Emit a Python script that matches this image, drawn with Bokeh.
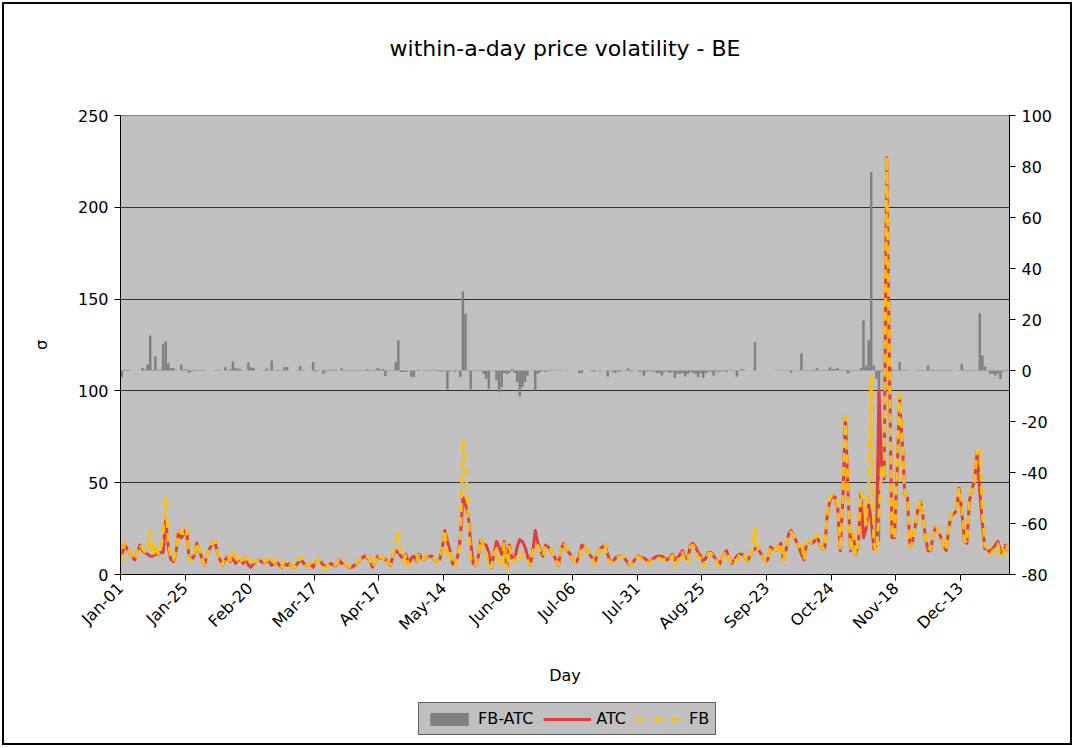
import math
import numpy as np
from bokeh.plotting import figure
from bokeh.layouts import column
from bokeh.models import Range1d, LinearAxis, FixedTicker, Legend, LegendItem, Label
from bokeh.embed import file_html
from bokeh.resources import INLINE

FONT = "DejaVu Sans"

TICK_LABELS = ["Jan-01", "Jan-25", "Feb-20", "Mar-17", "Apr-17", "May-14", "Jun-08",
               "Jul-06", "Jul-31", "Aug-25", "Sep-23", "Oct-24", "Nov-18", "Dec-13"]
TICK_STEP = 25

ATC = [
    9, 17, 14, 12, 10, 8, 12, 16, 13, 12, 11, 10, 10, 11, 11, 12, 12, 30, 15, 8, 7, 12, 24, 20, 22,
    25, 10, 8, 10, 17, 13, 9, 5, 11, 14, 17, 18, 12, 8, 5, 8, 10, 7, 9, 6, 8, 8, 6, 9, 5,
    4, 6, 7, 8, 7, 6, 8, 7, 5, 6, 7, 5, 4, 6, 5, 6, 4, 4, 6, 8, 7, 5, 5, 6, 4,
    6, 8, 7, 5, 4, 5, 6, 5, 5, 8, 6, 6, 5, 4, 4, 5, 6, 8, 9, 10, 9, 8, 4, 7, 10,
    9, 9, 8, 7, 5, 11, 13, 12, 10, 8, 11, 5, 9, 10, 7, 11, 9, 8, 10, 10, 10, 8, 7, 8, 14,
    24, 18, 13, 6, 5, 10, 20, 42, 38, 33, 17, 6, 5, 10, 19, 16, 16, 12, 4, 11, 18, 15, 11, 18, 4,
    16, 9, 8, 15, 19, 18, 15, 10, 5, 12, 24, 17, 13, 10, 16, 15, 13, 11, 8, 5, 14, 17, 14, 12, 10,
    7, 7, 10, 16, 15, 13, 11, 9, 6, 11, 14, 15, 16, 11, 7, 7, 9, 10, 10, 10, 8, 6, 5, 7, 9,
    10, 9, 9, 8, 6, 8, 9, 10, 10, 10, 9, 8, 9, 11, 8, 9, 11, 13, 9, 8, 16, 17, 15, 12, 10,
    7, 9, 12, 12, 10, 8, 5, 8, 11, 13, 9, 6, 8, 10, 11, 11, 10, 7, 10, 13, 14, 15, 12, 10, 7,
    8, 15, 14, 13, 15, 17, 8, 13, 22, 24, 21, 18, 15, 11, 8, 17, 18, 17, 18, 21, 17, 14, 14, 33, 40,
    43, 42, 37, 13, 40, 86, 45, 13, 22, 11, 16, 44, 20, 25, 38, 30, 14, 16, 100, 60, 52, 227, 120, 20, 20,
    55, 95, 72, 44, 42, 15, 18, 26, 35, 40, 32, 20, 13, 13, 22, 26, 24, 20, 16, 13, 25, 33, 33, 35, 47,
    35, 19, 17, 40, 47, 51, 67, 45, 28, 14, 14, 12, 14, 16, 18, 13, 11, 16, 13,
]

FB = [
    6.4, 17.3, 14.3, 12.3, 10, 8, 12, 16, 14, 12.4, 13.4, 23.7, 10.3, 16.5, 11.3, 12.3, 22.5, 41.4, 17.9, 9, 8, 12.2, 24, 22.4, 22.3,
    25.5, 9.1, 7.6, 10.2, 17.2, 13.2, 9.2, 5.2, 11, 14, 17, 18.2, 12.2, 8.2, 5, 9.3, 10.2, 7.5, 12.5, 6.8, 8.8, 8.5, 6, 9, 8.1,
    5.2, 7, 7, 8, 7, 6.2, 8.8, 7.2, 8.9, 6.2, 7.2, 5.2, 4.2, 7.3, 6.3, 6, 4, 4, 6.2, 9.7, 7.2, 5, 5, 6, 7.3,
    5.6, 8.2, 7, 3.7, 3.6, 5.2, 6.2, 5.3, 5.3, 8, 6.9, 6.2, 5.2, 4.2, 4.2, 5.2, 6.2, 8.2, 9.2, 10.2, 9.6, 8.2, 4.2, 7.2, 11,
    9.4, 9.6, 5.8, 7.2, 5.2, 11.2, 16.3, 23.8, 9.4, 7.4, 10.4, 4.8, 6.6, 7.4, 7.2, 11.2, 9, 8.2, 10.2, 10.2, 10.2, 8.2, 7.2, 7.6, 13.6,
    24.2, 10.6, 12.6, 6.2, 4.6, 10.2, 17.4, 73, 60.2, 33.2, 9.6, 6.2, 5.2, 10.2, 19.2, 14.7, 12.7, 4.8, 4.2, 11.2, 14.1, 6.5, 4.5, 17, 2.5,
    15, 9.6, 7, 10.4, 8.8, 11.5, 10.4, 8, 5, 12.2, 16.2, 15.7, 12.4, 10.2, 15.4, 15.2, 13.2, 11.1, 8.1, 5.1, 14.1, 17, 14.2, 12, 10,
    7, 7, 9, 15, 15, 13, 11, 8.6, 5.6, 11, 13.6, 15, 16, 8.6, 7, 6.4, 8, 9.6, 9.6, 10, 8.2, 6.9, 4.6, 6.8, 9,
    9.6, 8.6, 7, 7.6, 5.8, 7.6, 8.6, 9, 9, 8, 8.4, 7.6, 8, 10.4, 5.1, 7.7, 9.7, 12, 6.6, 6.7, 15.4, 16, 13.7, 9.4, 9,
    4.1, 8, 11.6, 11.6, 8, 7.6, 4.6, 7.6, 10.8, 12.4, 9, 5.8, 7.8, 7.6, 10.8, 11.6, 10.3, 7, 10, 13, 25.1, 15, 12, 10, 7,
    8, 15, 14.1, 13.1, 15.1, 17.1, 8.1, 13.1, 22.1, 23.1, 21.1, 18.1, 15.1, 17.8, 8.2, 17.2, 18.2, 17.2, 18.2, 21.9, 17.2, 14.2, 14.2, 33.3, 41.3,
    43.6, 42.6, 38, 13.2, 40.2, 86.2, 43.7, 12.7, 22.2, 11.2, 16.2, 45, 39.6, 27, 50, 107.8, 16, 12.7, 33, 59.5, 52.2, 227.3, 120.2, 20.6, 20.2,
    55.2, 98.3, 72.2, 44.2, 42.2, 15, 18, 26, 35.2, 40.2, 32.2, 20.2, 15, 13.3, 22.3, 26.3, 24.2, 20.2, 16.2, 13.3, 25.2, 33.2, 33, 35, 47.2,
    37.6, 19.3, 17.2, 40.2, 47.2, 51.2, 67.2, 67.5, 33.9, 15.6, 14.2, 10.7, 12.7, 14, 16.7, 9.7, 10.5, 16.3, 13.3,
]

FB_ATC = [
    -2.6, 0.3, 0.3, 0.3, 0, 0, 0, 0, 1.0, 0.4, 2.4, 13.7, 0.3, 5.5, 0.3, 0.3, 10.5, 11.4, 2.9, 1.0, 1.0, 0.2, 0, 2.4, 0.3,
    0.5, -0.9, -0.4, 0.2, 0.2, 0.2, 0.2, 0.2, 0, 0, 0, 0.2, 0.2, 0.2, 0, 1.3, 0.2, 0.5, 3.5, 0.8, 0.8, 0.5, 0, 0, 3.1,
    1.2, 1.0, 0, 0, 0, 0.2, 0.8, 0.2, 3.9, 0.2, 0.2, 0.2, 0.2, 1.3, 1.3, 0, 0, 0, 0.2, 1.7, 0.2, 0, 0, 0, 3.3,
    -0.4, 0.2, 0, -1.3, -0.4, 0.2, 0.2, 0.3, 0.3, 0, 0.9, 0.2, 0.2, 0.2, 0.2, 0.2, 0.2, 0.2, 0.2, 0.2, 0.6, 0.2, 0.2, 0.2, 1.0,
    0.4, 0.6, -2.2, 0.2, 0.2, 0.2, 3.3, 11.8, -0.6, -0.6, -0.6, -0.2, -2.4, -2.6, 0.2, 0.2, 0, 0.2, 0.2, 0.2, 0.2, 0.2, 0.2, -0.4, -0.4,
    0.2, -7.4, -0.4, 0.2, -0.4, 0.2, -2.6, 31.0, 22.2, 0.2, -7.4, 0.2, 0.2, 0.2, 0.2, -1.3, -3.3, -7.2, 0.2, 0.2, -3.9, -8.5, -6.5, -1.0, -1.5,
    -1.0, 0.6, -1.0, -4.6, -10.2, -6.5, -4.6, -2.0, 0, 0.2, -7.8, -1.3, -0.6, 0.2, -0.6, 0.2, 0.2, 0.1, 0.1, 0.1, 0.1, 0, 0.2, 0, 0,
    0, 0, -1.0, -1.0, 0, 0, 0, -0.4, -0.4, 0, -0.4, 0, 0, -2.4, 0, -0.6, -1.0, -0.4, -0.4, 0, 0.2, 0.9, -0.4, -0.2, 0,
    -0.4, -0.4, -2.0, -0.4, -0.2, -0.4, -0.4, -1.0, -1.0, -2.0, -0.6, -0.4, -1.0, -0.6, -2.9, -1.3, -1.3, -1.0, -2.4, -1.3, -0.6, -1.0, -1.3, -2.6, -1.0,
    -2.9, -1.0, -0.4, -0.4, -2.0, -0.4, -0.4, -0.4, -0.2, -0.6, 0, -0.2, -0.2, -2.4, -0.2, 0.6, 0.3, 0, 0, 0, 11.1, 0, 0, 0, 0,
    0, 0, 0.1, 0.1, 0.1, 0.1, 0.1, 0.1, 0.1, -0.9, 0.1, 0.1, 0.1, 6.8, 0.2, 0.2, 0.2, 0.2, 0.2, 0.9, 0.2, 0.2, 0.2, 0.3, 1.3,
    0.6, 0.6, 1.0, 0.2, 0.2, 0.2, -1.3, -0.3, 0.2, 0.2, 0.2, 1.0, 19.6, 2.0, 12.0, 77.8, 2.0, -3.3, -67.0, -0.5, 0.2, 0.3, 0.2, 0.6, 0.2,
    0.2, 3.3, 0.2, 0.2, 0.2, 0, 0, 0, 0.2, 0.2, 0.2, 0.2, 2.0, 0.3, 0.3, 0.3, 0.2, 0.2, 0.2, 0.3, 0.2, 0.2, 0, 0, 0.2,
    2.6, 0.3, 0.2, 0.2, 0.2, 0.2, 0.2, 22.5, 5.9, 1.6, 0.2, -1.3, -1.3, -2.0, -1.3, -3.3, -0.5, 0.3, 0.3,
]

LEFT_TICKS = [0, 50, 100, 150, 200, 250]
RIGHT_TICKS = [-80, -60, -40, -20, 0, 20, 40, 60, 80, 100]

BAR_COLOR = "#808080"
ATC_COLOR = "#E53A3F"
FB_COLOR = "#FFC000"

n = len(ATC)
x = np.arange(n) + 0.5

W = 1074
H_TOP = 70
H_MAIN = 630
H_LEG = 47
FRAME_TOP, FRAME_BOTTOM, FRAME_LEFT, FRAME_RIGHT = 115, 574, 120, 1009


def bare_figure(height, **kw):
    f = figure(width=W, height=height, output_backend="svg", toolbar_location=None,
               x_axis_location=None, y_axis_location=None, min_border=0, **kw)
    f.grid.visible = False
    f.outline_line_color = None
    f.background_fill_color = None
    f.border_fill_color = None
    return f


# --- title strip ---
t = bare_figure(H_TOP, x_range=Range1d(0, 1), y_range=Range1d(0, 1))
t.add_layout(Label(x=(FRAME_RIGHT - FRAME_LEFT) / 2, y=H_TOP - 48, x_units="screen", y_units="screen",
                   text="within-a-day price volatility - BE", text_align="center",
                   text_baseline="middle", text_font=FONT, text_font_size="22px",
                   text_color="black"))

# --- main chart ---
p = figure(width=W, height=H_MAIN, output_backend="svg", toolbar_location=None,
           x_range=Range1d(0, n), y_range=Range1d(0, 250),
           min_border_left=FRAME_LEFT, min_border_right=W - FRAME_RIGHT,
           min_border_top=FRAME_TOP - H_TOP,
           min_border_bottom=H_TOP + H_MAIN - FRAME_BOTTOM)
p.background_fill_color = "#C0C0C0"
p.border_fill_color = None
p.outline_line_color = "#808080"
p.outline_line_width = 1

p.extra_y_ranges = {"r": Range1d(-80, 100)}

p.xgrid.visible = False
p.ygrid.ticker = FixedTicker(ticks=[50, 100, 150, 200])
p.ygrid.grid_line_color = "#333333"
p.ygrid.grid_line_width = 1


def style_axis(ax):
    ax.axis_line_color = "black"
    ax.axis_line_width = 1
    ax.major_tick_line_color = "black"
    ax.major_tick_out = 6
    ax.major_tick_in = 0
    ax.minor_tick_line_color = None
    ax.major_label_text_font = FONT
    ax.major_label_text_font_size = "16px"
    ax.major_label_text_color = "black"
    ax.axis_label_text_font = FONT
    ax.axis_label_text_font_size = "16px"
    ax.axis_label_text_font_style = "normal"
    ax.axis_label_text_color = "black"


xa = p.xaxis[0]
xa.ticker = FixedTicker(ticks=[i * TICK_STEP for i in range(len(TICK_LABELS))])
xa.major_label_overrides = {i * TICK_STEP: lbl for i, lbl in enumerate(TICK_LABELS)}
xa.major_label_orientation = math.pi / 4
xa.axis_label = "Day"
style_axis(xa)
xa.axis_label_standoff = 22

ya = p.yaxis[0]
ya.ticker = FixedTicker(ticks=LEFT_TICKS)
ya.axis_label = "σ"
style_axis(ya)
ya.axis_label_standoff = 24
ya.major_label_standoff = 6

ra = LinearAxis(y_range_name="r", ticker=FixedTicker(ticks=RIGHT_TICKS))
ra.major_label_overrides = {v: str(v) for v in RIGHT_TICKS}
style_axis(ra)
ra.major_label_standoff = 6
p.add_layout(ra, "right")

p.vbar(x=x, top=FB_ATC, bottom=0, width=0.95, y_range_name="r",
       fill_color=BAR_COLOR, line_color=None)
p.line(x, ATC, line_color=ATC_COLOR, line_width=3, line_join="round")
p.line(x, FB, line_color=FB_COLOR, line_width=3, line_dash="9 5", line_join="round")

# --- legend strip: same series, drawn outside this strip's visible range ---
q = bare_figure(H_LEG, x_range=Range1d(0, n), y_range=Range1d(1000, 1001))
g_bar = q.vbar(x=x, top=FB_ATC, bottom=0, width=0.95, fill_color=BAR_COLOR, line_color=None)
g_atc = q.line(x, ATC, line_color=ATC_COLOR, line_width=3)
g_fb = q.line(x, FB, line_color=FB_COLOR, line_width=3, line_dash="7 11")

legend = Legend(items=[LegendItem(label="FB-ATC", renderers=[g_bar]),
                       LegendItem(label="ATC", renderers=[g_atc]),
                       LegendItem(label="FB", renderers=[g_fb])],
                orientation="horizontal", location=(418 - FRAME_LEFT, 12),
                glyph_width=48, glyph_height=16, label_standoff=5, spacing=10,
                padding=6, margin=0,
                label_text_font=FONT, label_text_font_size="16px",
                label_text_color="black",
                background_fill_color="#C0C0C0", background_fill_alpha=1.0,
                border_line_color="black", border_line_width=1)
q.add_layout(legend)

layout = column(t, p, q, spacing=0)
layout.styles = {"outline": "2px solid black", "outline-offset": "-4px"}

open("out.html", "w").write(file_html(layout, INLINE))
